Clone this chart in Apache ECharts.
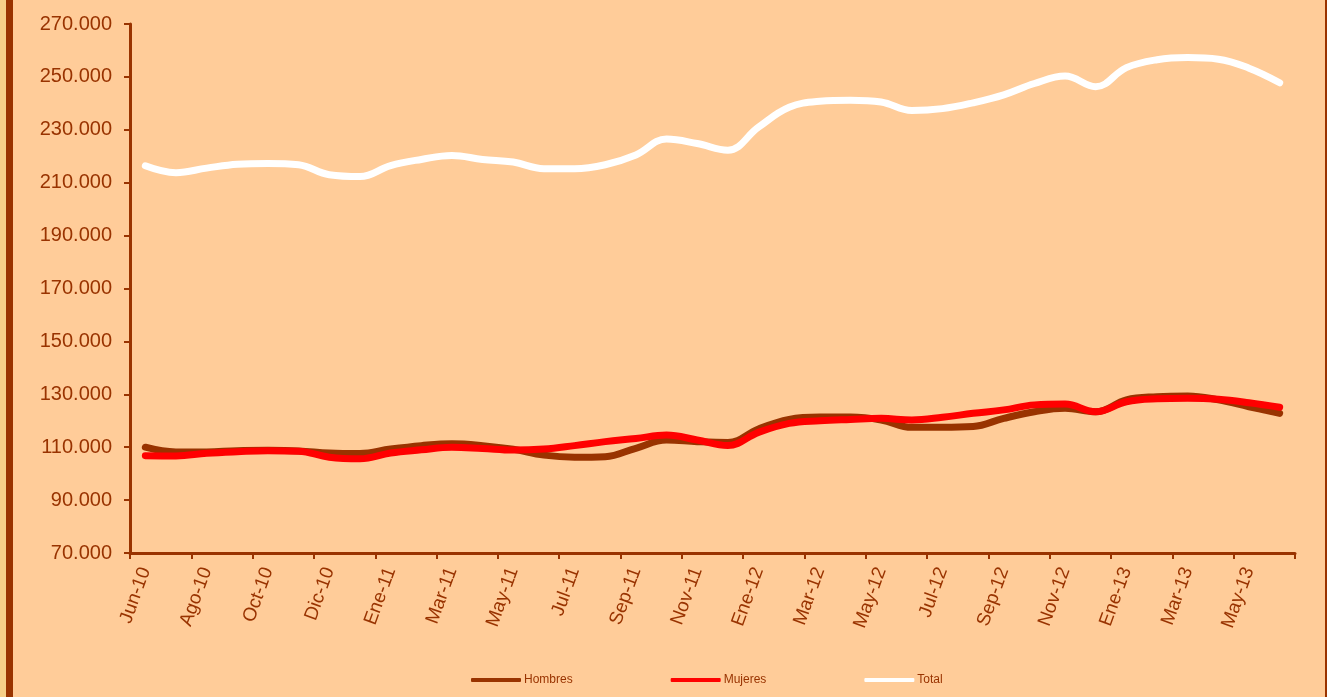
<!DOCTYPE html>
<html>
<head>
<meta charset="utf-8">
<script src="https://cdn.jsdelivr.net/npm/echarts@6/dist/echarts.min.js"></script>
<style>
  html, body { margin: 0; padding: 0; background: #FFCC99; }
  #chart { width: 1327px; height: 697px; }
</style>
</head>
<body>
<div id="chart"></div>
<script>
// meses (hay un mes extra entre Dic-10 y Ene-11 en la serie original)
const months = ['Jun-10', 'Jul-10', 'Ago-10', 'Sep-10', 'Oct-10', 'Nov-10', 'Dic-10', 'Dic-10 ',
    'Ene-11', 'Feb-11', 'Mar-11', 'Abr-11', 'May-11', 'Jun-11', 'Jul-11', 'Ago-11', 'Sep-11', 'Oct-11', 'Nov-11', 'Dic-11',
    'Ene-12', 'Feb-12', 'Mar-12', 'Abr-12', 'May-12', 'Jun-12', 'Jul-12', 'Ago-12', 'Sep-12', 'Oct-12', 'Nov-12', 'Dic-12',
    'Ene-13', 'Feb-13', 'Mar-13', 'Abr-13', 'May-13', 'Jun-13'];

const hombres = [110000, 108200, 108200, 108700, 108800, 108600, 107800, 107600,
    109300, 110600, 111300, 110600, 109200, 107000, 106200, 106400, 109600, 112700, 112100, 111800,
    116900, 120500, 121400, 121400, 120300, 117500, 117500, 117800, 120900, 123400, 124700, 123400,
    127900, 129100, 129400, 127900, 125300, 122800];

const mujeres = [106800, 106700, 107700, 108300, 108700, 108500, 106200, 105600,
    107800, 109000, 110000, 109500, 108900, 109300, 110600, 112100, 113300, 114600, 112700, 110600,
    115600, 119000, 120000, 120500, 120900, 120300, 121300, 122800, 124100, 126000, 126300, 123400,
    127200, 128300, 128500, 128100, 126800, 125100];

const total = [216400, 213800, 215500, 217000, 217300, 216800, 213000, 212300,
    216500, 218800, 220300, 218800, 217800, 215300, 215300, 216800, 220500, 226500, 224800, 222300,
    231000, 238500, 240800, 241200, 240500, 237300, 238000, 240200, 243200, 247500, 250300, 246300,
    253500, 256500, 257300, 256700, 253300, 247800];

const brown = '#993300';
const font = 'Liberation Sans, Arial, sans-serif';

const fmt = v => String(v).replace(/\B(?=(\d{3})+(?!\d))/g, '.');

const chart = echarts.init(document.getElementById('chart'));

const lineSeries = (name, data, color) => ({
    name: name,
    type: 'line',
    data: data,
    smooth: 0.4,
    showSymbol: false,
    symbol: 'none',
    lineStyle: { width: 7, color: color, cap: 'round' },
    itemStyle: { color: color }
});

const option = {
    backgroundColor: '#FFCC99',
    animation: false,
    grid: { left: 130, right: 32, top: 24, bottom: 144 },
    graphic: [
        { type: 'rect', shape: { x: 0, y: 0, width: 6, height: 697 }, style: { fill: '#F6CE88' } },
        { type: 'rect', shape: { x: 6, y: 0, width: 7, height: 697 }, style: { fill: brown } },
        { type: 'rect', shape: { x: 1325, y: 0, width: 2, height: 697 }, style: { fill: brown } }
    ],
    legend: {
        left: 466,
        top: 669,
        itemWidth: 50,
        itemHeight: 4,
        itemGap: 98,
        icon: 'roundRect',
        textStyle: { color: brown, fontSize: 12, fontFamily: font, padding: [0, 0, 0, -2] },
        data: ['Hombres', 'Mujeres', 'Total']
    },
    xAxis: {
        type: 'category',
        data: months,
        boundaryGap: true,
        axisLine: { lineStyle: { color: brown, width: 3 } },
        axisTick: { show: true, interval: 1, length: 6, lineStyle: { color: brown, width: 2 } },
        axisLabel: {
            interval: 1,
            rotate: 70,
            margin: 15,
            color: brown,
            fontSize: 19,
            fontFamily: font
        },
        splitLine: { show: false }
    },
    yAxis: {
        type: 'value',
        min: 70000,
        max: 270000,
        interval: 20000,
        axisLine: { show: true, lineStyle: { color: brown, width: 3 } },
        axisTick: { show: true, length: 6, lineStyle: { color: brown, width: 2 } },
        axisLabel: {
            color: brown,
            fontSize: 20,
            fontFamily: font,
            margin: 18,
            formatter: fmt
        },
        splitLine: { show: false }
    },
    series: [
        lineSeries('Hombres', hombres, brown),
        lineSeries('Mujeres', mujeres, '#FF0000'),
        lineSeries('Total', total, '#FFFFFF')
    ]
};

chart.setOption(option);
</script>
</body>
</html>
